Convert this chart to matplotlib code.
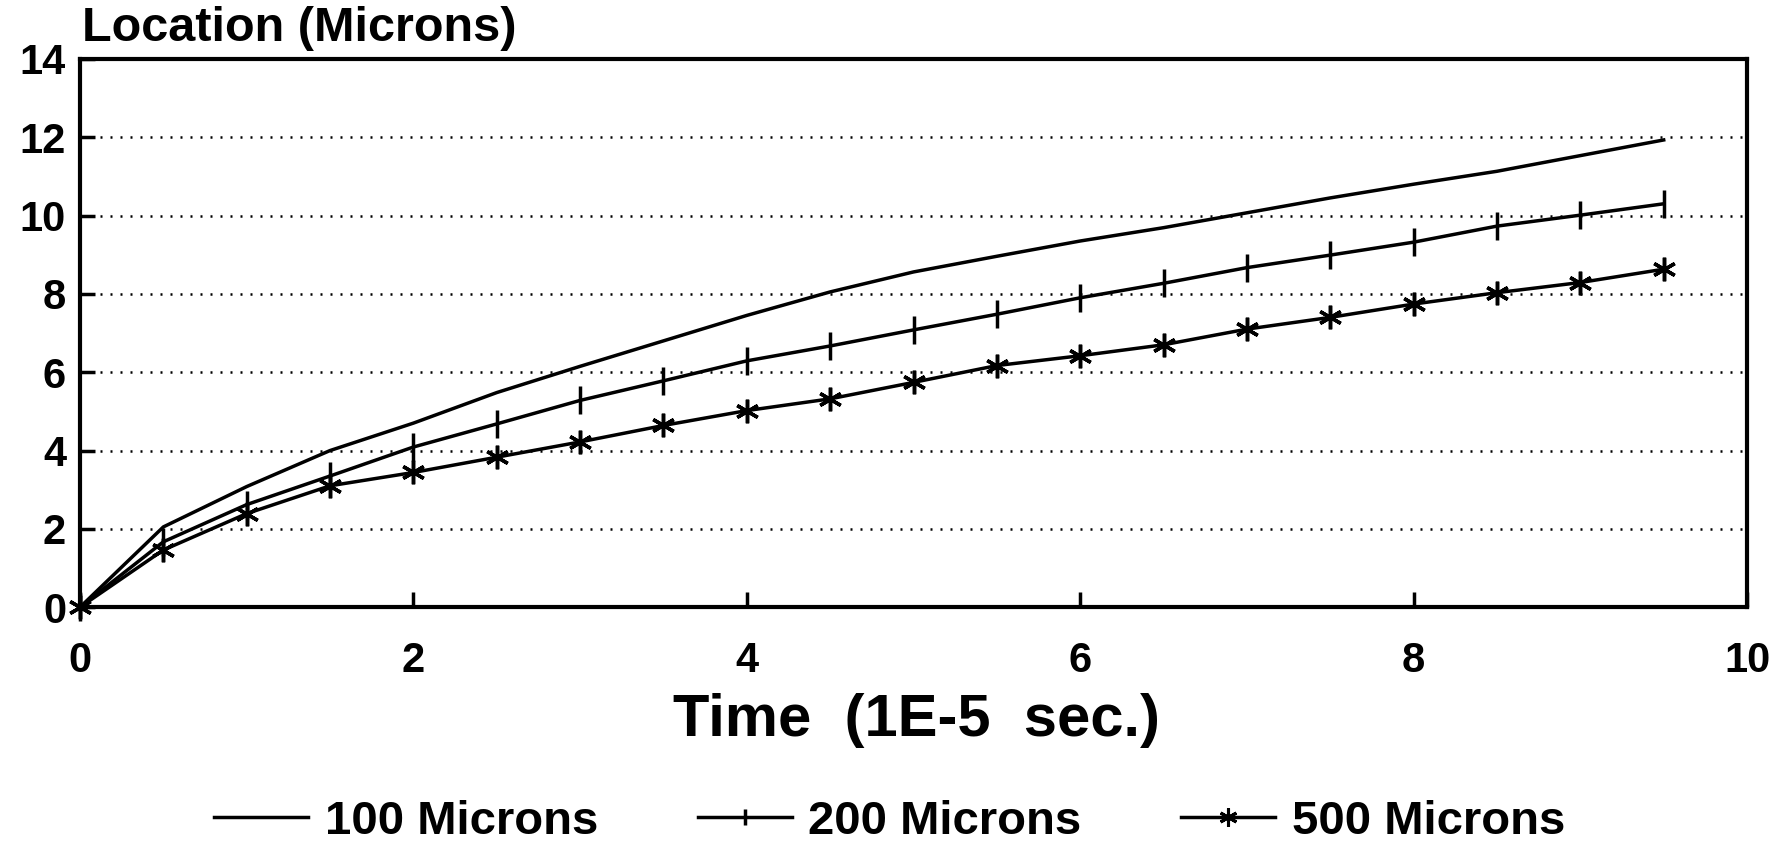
import matplotlib
matplotlib.use("Agg")
import matplotlib.pyplot as plt
from matplotlib.lines import Line2D

plt.rcParams['font.family'] = ['Liberation Sans', 'DejaVu Sans']
plt.rcParams['font.weight'] = 'bold'

# Time in units of 1E-5 s
time = [0, 0.5, 1, 1.5, 2, 2.5, 3, 3.5, 4, 4.5, 5, 5.5, 6, 6.5, 7, 7.5, 8, 8.5, 9, 9.5]

# Front location (microns) for each case
loc_100 = [0, 2.05, 3.08, 4.0, 4.7, 5.48, 6.15, 6.8, 7.45, 8.05, 8.56, 8.96,
           9.35, 9.69, 10.07, 10.45, 10.8, 11.13, 11.53, 11.93]
loc_200 = [0, 1.67, 2.62, 3.35, 4.09, 4.68, 5.28, 5.78, 6.29, 6.67, 7.08, 7.48,
           7.9, 8.27, 8.67, 8.99, 9.32, 9.73, 10.01, 10.3]
loc_500 = [0, 1.46, 2.39, 3.1, 3.44, 3.83, 4.22, 4.64, 5.02, 5.32, 5.74, 6.17,
           6.42, 6.7, 7.1, 7.4, 7.74, 8.03, 8.29, 8.63]

series_labels = ["100 Microns", "200 Microns", "500 Microns"]
x_ticks = [0, 2, 4, 6, 8, 10]
y_ticks = [0, 2, 4, 6, 8, 10, 12, 14]

fig = plt.figure(figsize=(17.9, 8.41), dpi=100)
ax = fig.add_axes([0.0447, 0.278, 0.9313, 0.652])

lw = 2.5
star = (6, 2, 0)
ax.plot(time, loc_100, color='black', lw=lw, clip_on=False)
ax.plot(time, loc_200, color='black', lw=lw, marker='|', ms=20, mew=2.5, clip_on=False)
ax.plot(time, loc_500, color='black', lw=lw, marker=star, ms=17, mew=2.5, clip_on=False)

ax.set_xlim(0, 10)
ax.set_ylim(0, 14)
ax.set_xticks(x_ticks)
ax.set_yticks(y_ticks)
ax.tick_params(axis='both', direction='in', length=11, width=2.5, labelsize=30)
ax.tick_params(axis='x', pad=24)
ax.tick_params(axis='y', pad=10)
for lab in ax.get_xticklabels() + ax.get_yticklabels():
    lab.set_fontweight('heavy')

for s in ax.spines.values():
    s.set_linewidth(3)

# dotted horizontal guides
for yv in y_ticks[1:-1]:
    ax.axhline(yv, color='black', lw=1.8, dashes=(0.8, 3.2), zorder=0)

fig.text(0.046, 0.966, "Location (Microns)", fontsize=35, fontweight='bold',
         ha='left', va='center')
fig.text(0.512, 0.143, "Time  (1E-5  sec.)", fontsize=43, fontweight='bold',
         ha='center', va='center')

handles = [
    Line2D([], [], color='black', lw=lw),
    Line2D([], [], color='black', lw=lw, marker='|', ms=12, mew=2.5),
    Line2D([], [], color='black', lw=lw, marker=star, ms=13, mew=2.2),
]
fig.legend(handles, series_labels, loc='center', bbox_to_anchor=(0.497, 0.023),
           ncol=3, frameon=False, handlelength=2.0,
           handletextpad=0.35, columnspacing=2.1, numpoints=1,
           prop={'weight': 'bold', 'size': 34})

fig.savefig("out.png", dpi=100)
